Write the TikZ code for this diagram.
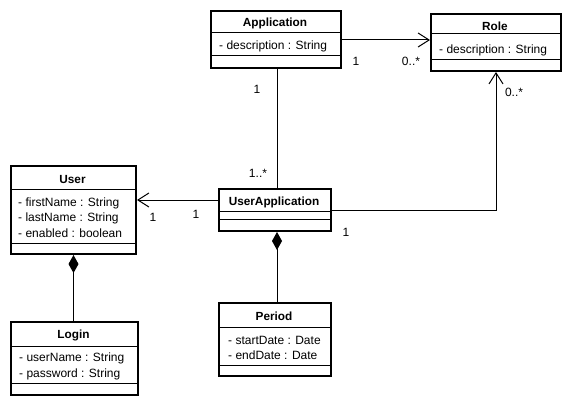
\documentclass[tikz,border=0pt]{standalone}
\usepackage{fontspec}
\setmainfont{Liberation Sans}
\usetikzlibrary{arrows.meta,calc}
\begin{document}
\begin{tikzpicture}[x=1pt,y=-1pt,
  cls/.style={draw, line width=2pt, rectangle, anchor=north west, inner sep=0pt, fill=white},
  sep/.style={line width=1pt},
  ttl/.style={font=\fontsize{11.8}{13}\selectfont\bfseries, inner sep=0pt},
  attr/.style={font=\fontsize{12}{13}\selectfont, inner sep=0pt, anchor=west},
  lbl/.style={font=\fontsize{12}{13}\selectfont, inner sep=0pt},
  assoc/.style={line width=1pt, -{Straight Barb[length=11pt,width=14pt]}},
  comp/.style={line width=1pt, {Diamond[length=18pt,width=10pt]}-},
]
\useasboundingbox[fill=white] (0,0) rectangle (570,404);

% Application
\node[cls, minimum width=130pt, minimum height=57pt] (app) at (210,10) {};
\draw[sep] ($(app.north west)+(0,23)$) -- ($(app.north east)+(0,23)$);
\draw[sep] ($(app.north west)+(0,46)$) -- ($(app.north east)+(0,46)$);
\node[ttl] (appT) at (275,23.5) {Application};
\node[attr] (appA) at (219,46) {- description : String};

% Role
\node[cls, minimum width=130pt, minimum height=57pt] (role) at (430,13) {};
\draw[sep] ($(role.north west)+(0,21)$) -- ($(role.north east)+(0,21)$);
\draw[sep] ($(role.north west)+(0,47)$) -- ($(role.north east)+(0,47)$);
\node[ttl] (roleT) at (495,26.5) {Role};
\node[attr] (roleA) at (439,50) {- description : String};

% User
\node[cls, minimum width=125pt, minimum height=88pt] (user) at (10,165) {};
\draw[sep] ($(user.north west)+(0,24)$) -- ($(user.north east)+(0,24)$);
\draw[sep] ($(user.north west)+(0,78)$) -- ($(user.north east)+(0,78)$);
\node[ttl] (userT) at (72.5,179.5) {User};
\node[attr] (userA1) at (18,203) {- firstName : String};
\node[attr] (userA2) at (18,218) {- lastName : String};
\node[attr] (userA3) at (18,233) {- enabled : boolean};

% UserApplication
\node[cls, minimum width=112pt, minimum height=42pt] (ua) at (218,188) {};
\draw[sep] ($(ua.north west)+(0,23)$) -- ($(ua.north east)+(0,23)$);
\draw[sep] ($(ua.north west)+(0,31)$) -- ($(ua.north east)+(0,31)$);
\node[ttl] (uaT) at (274,202) {UserApplication};

% Period
\node[cls, minimum width=112pt, minimum height=73pt] (period) at (218,302) {};
\draw[sep] ($(period.north west)+(0,25)$) -- ($(period.north east)+(0,25)$);
\draw[sep] ($(period.north west)+(0,63)$) -- ($(period.north east)+(0,63)$);
\node[ttl] (periodT) at (274,316.5) {Period};
\node[attr] (periodA1) at (228,340) {- startDate : Date};
\node[attr] (periodA2) at (228,355) {- endDate : Date};

% Login
\node[cls, minimum width=127pt, minimum height=73pt] (login) at (10,321) {};
\draw[sep] ($(login.north west)+(0,25)$) -- ($(login.north east)+(0,25)$);
\draw[sep] ($(login.north west)+(0,62)$) -- ($(login.north east)+(0,62)$);
\node[ttl] (loginT) at (73.5,335.5) {Login};
\node[attr] (loginA1) at (19,358) {- userName : String};
\node[attr] (loginA2) at (19,374) {- password : String};

% connectors
\coordinate (appR) at ($(app.north east)+(0,30)$);
\draw[assoc] (appR) -- (appR -| role.west);
\coordinate (appB) at ($(app.south)+(1,0)$);
\draw[line width=1pt] (appB) -- (appB |- ua.north);
\coordinate (uaL) at ($(ua.north west)+(0,12)$);
\draw[assoc] (uaL) -- (uaL -| user.east);
\coordinate (uaR) at ($(ua.north east)+(0,22)$);
\draw[assoc] (uaR) -| (role.south);
\coordinate (uaB) at ($(ua.south)+(2,0)$);
\draw[comp] (uaB) -- (uaB |- period.north);
\draw[comp] (user.south) -- (user.south |- login.north);

% multiplicities
\node[lbl] (m1) at (356,61) {1};
\node[lbl] (m2) at (411,61) {0..*};
\node[lbl] (m3) at (257,89) {1};
\node[lbl] (m4) at (258,173) {1..*};
\node[lbl] (m5) at (153,217) {1};
\node[lbl] (m6) at (196,214) {1};
\node[lbl] (m7) at (514,92) {0..*};
\node[lbl] (m8) at (346,232) {1};
\end{tikzpicture}
\end{document}
